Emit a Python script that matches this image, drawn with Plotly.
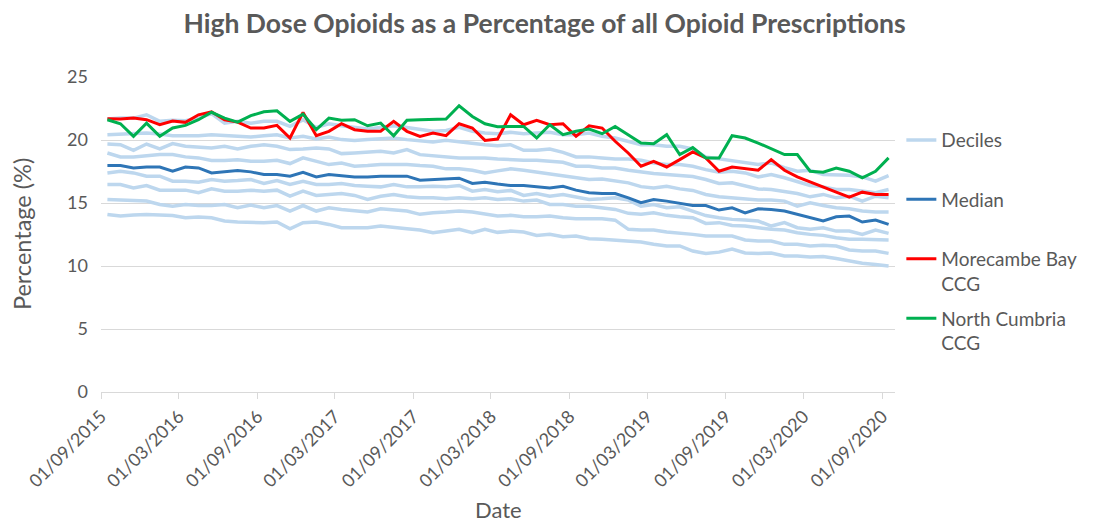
import pandas as pd
import plotly.graph_objects as go

# Monthly prescribing data, Sep 2015 – Sep 2020
months = pd.date_range("2015-09-01", periods=61, freq="MS")

p10 = [14.09, 13.96, 14.04, 14.09, 14.04, 14.01, 13.83, 13.88, 13.83, 13.57, 13.49, 13.43, 13.43, 13.49, 12.95,
       13.43, 13.49, 13.30, 13.04, 13.04, 13.04, 13.17, 13.04, 12.96, 12.85, 12.64, 12.77, 12.91, 12.64, 12.91,
       12.67, 12.77, 12.70, 12.43, 12.51, 12.33, 12.38, 12.17, 12.12, 12.06, 12.00, 11.90, 11.72, 11.59, 11.59,
       11.19, 11.00, 11.10, 11.35, 11.03, 11.00, 11.03, 10.80, 10.80, 10.72, 10.75, 10.59, 10.40, 10.22, 10.11, 10.00]
p20 = [15.28, 15.23, 15.15, 15.15, 14.88, 14.75, 14.88, 14.80, 14.80, 14.88, 14.62, 14.83, 14.62, 14.80, 14.36,
       14.80, 14.36, 14.62, 14.49, 14.36, 14.28, 14.54, 14.44, 14.36, 14.10, 14.23, 14.28, 14.36, 14.28, 14.10,
       13.96, 14.02, 13.91, 13.91, 13.96, 13.83, 13.75, 13.75, 13.75, 13.64, 12.91, 12.85, 12.85, 12.70, 12.64,
       12.51, 12.38, 12.38, 12.38, 12.06, 11.98, 11.98, 11.72, 11.72, 11.59, 11.64, 11.59, 11.27, 11.19, 11.19, 11.00]
p30 = [16.47, 16.47, 16.20, 16.39, 16.02, 16.02, 16.02, 15.81, 16.12, 15.94, 15.94, 16.02, 15.94, 16.02, 15.54,
       15.94, 15.60, 15.68, 15.75, 15.60, 15.28, 15.54, 15.68, 15.49, 15.41, 15.41, 15.33, 15.41, 15.33, 15.41,
       15.28, 15.33, 15.15, 15.23, 14.88, 14.88, 14.75, 14.75, 14.62, 14.49, 14.18, 14.10, 14.23, 14.02, 13.91,
       13.83, 13.38, 13.44, 13.22, 13.17, 13.04, 12.91, 12.85, 12.64, 12.51, 12.43, 12.25, 12.12, 12.12, 12.12, 12.06]
p40 = [17.39, 17.52, 17.39, 17.13, 17.13, 16.73, 16.73, 16.65, 16.86, 16.73, 16.78, 16.86, 16.55, 16.78, 16.47,
       16.73, 16.47, 16.47, 16.55, 16.39, 16.33, 16.28, 16.47, 16.28, 16.28, 16.33, 16.28, 16.39, 15.94, 16.07,
       15.90, 16.00, 15.60, 15.75, 15.54, 15.68, 15.47, 15.28, 15.33, 15.41, 15.23, 14.75, 14.88, 14.62, 14.70,
       14.33, 14.00, 13.83, 13.70, 13.65, 13.57, 13.17, 13.44, 13.04, 12.91, 13.04, 12.77, 12.77, 12.51, 12.85, 12.59]
p60 = [18.97, 18.66, 18.66, 18.76, 18.84, 18.84, 18.66, 18.58, 18.37, 18.37, 18.44, 18.31, 18.31, 18.39, 18.13,
       18.58, 18.31, 18.05, 18.18, 17.92, 17.97, 18.05, 18.05, 18.05, 17.97, 17.92, 17.71, 17.71, 17.60, 17.39,
       17.55, 17.71, 17.60, 17.44, 17.34, 17.18, 17.00, 16.86, 16.90, 16.73, 16.60, 16.30, 16.20, 16.33, 16.12,
       16.00, 15.68, 15.49, 15.41, 15.34, 15.23, 15.23, 15.15, 14.75, 15.02, 14.80, 14.62, 14.54, 14.36, 14.28, 14.28]
p70 = [19.68, 19.63, 19.18, 19.68, 19.29, 19.71, 19.50, 19.42, 19.37, 19.50, 19.29, 19.50, 19.63, 19.50, 19.24,
       19.29, 19.37, 19.29, 18.92, 18.97, 19.02, 19.10, 18.97, 19.24, 18.84, 18.76, 18.71, 18.58, 18.58, 18.58,
       18.50, 18.44, 18.39, 18.39, 18.31, 18.23, 17.92, 17.92, 17.78, 17.78, 17.60, 17.45, 17.34, 17.26, 17.20,
       17.10, 16.86, 16.55, 16.60, 16.39, 16.12, 16.07, 15.94, 15.75, 15.49, 15.68, 15.41, 15.54, 15.15, 15.54, 15.41]
p80 = [20.42, 20.47, 20.55, 20.55, 20.47, 20.34, 20.34, 20.34, 20.42, 20.34, 20.29, 20.24, 20.34, 20.42, 20.16,
       20.29, 20.08, 20.24, 20.03, 19.97, 20.03, 20.08, 20.16, 20.03, 19.90, 19.84, 19.97, 19.84, 19.76, 19.63,
       19.55, 19.63, 19.18, 19.18, 19.29, 19.02, 18.66, 18.66, 18.58, 18.50, 18.50, 18.39, 18.18, 18.05, 18.05,
       17.92, 17.65, 17.44, 17.52, 17.39, 17.07, 17.26, 17.00, 16.73, 16.39, 16.28, 16.07, 16.07, 15.94, 15.81, 16.07]
p90 = [21.66, 21.74, 21.74, 22.00, 21.48, 21.56, 21.53, 21.74, 22.10, 21.34, 21.48, 21.34, 21.48, 21.48, 21.08,
       21.60, 21.00, 21.29, 21.13, 21.00, 20.87, 21.00, 21.13, 21.00, 20.82, 20.69, 20.76, 21.00, 20.69, 20.55,
       20.50, 20.61, 20.50, 20.55, 20.61, 20.42, 20.42, 20.55, 20.29, 20.16, 19.90, 19.63, 19.63, 19.50, 19.50,
       19.29, 18.66, 18.50, 18.31, 18.20, 18.05, 18.18, 17.80, 17.52, 17.60, 17.26, 17.20, 17.20, 17.07, 16.73, 17.18]
median = [17.97, 17.97, 17.78, 17.86, 17.86, 17.52, 17.86, 17.78, 17.39, 17.47, 17.57, 17.47, 17.26, 17.26, 17.13,
          17.44, 17.07, 17.26, 17.18, 17.07, 17.07, 17.13, 17.13, 17.13, 16.81, 16.86, 16.86, 16.97, 16.55, 16.65,
          16.50, 16.39, 16.39, 16.28, 16.20, 16.33, 16.02, 15.81, 15.75, 15.75, 15.41, 15.02, 15.28, 15.15, 14.96,
          14.80, 14.80, 14.44, 14.62, 14.22, 14.54, 14.49, 14.36, 14.10, 13.83, 13.57, 13.91, 13.96, 13.49, 13.65, 13.30]
morecambe_bay = [21.69, 21.66, 21.74, 21.61, 21.21, 21.50, 21.40, 22.00, 22.24, 21.61, 21.42, 20.95, 20.95, 21.16, 20.16,
                 22.19, 20.34, 20.69, 21.29, 20.82, 20.69, 20.69, 21.48, 20.69, 20.29, 20.55, 20.34, 21.29, 20.95, 19.97,
                 20.08, 22.00, 21.21, 21.56, 21.21, 21.29, 20.29, 21.13, 20.95, 19.90, 18.95, 17.92, 18.31, 17.86, 18.44,
                 19.05, 18.58, 17.52, 17.86, 17.71, 17.60, 18.44, 17.60, 17.07, 16.65, 16.28, 15.86, 15.46, 15.86, 15.68, 15.68]
north_cumbria = [21.61, 21.29, 20.29, 21.34, 20.29, 20.95, 21.16, 21.61, 22.20, 21.74, 21.42, 21.93, 22.24, 22.32, 21.48,
                 22.05, 20.82, 21.74, 21.56, 21.61, 21.13, 21.34, 20.34, 21.56, 21.61, 21.66, 21.66, 22.72, 21.87, 21.29,
                 21.05, 21.08, 21.08, 20.16, 21.21, 20.42, 20.69, 20.87, 20.50, 21.08, 20.42, 19.76, 19.71, 20.42, 18.84,
                 19.40, 18.58, 18.58, 20.34, 20.16, 19.76, 19.29, 18.84, 18.84, 17.52, 17.44, 17.78, 17.52, 16.99, 17.52, 18.58]

deciles = [p10, p20, p30, p40, p60, p70, p80, p90]

y_ticks = [0, 5, 10, 15, 20, 25]

TEXT = "#595959"
FONT = "Lato"

fig = go.Figure()

common = dict(x=months, xperiod="M1", xperiodalignment="middle", mode="lines")

for k, series in enumerate(deciles):
    fig.add_trace(go.Scatter(
        y=series, name="Deciles<br> ", legendgroup="deciles", showlegend=(k == 0),
        line=dict(color="#BDD7EE", width=3.5), **common))

fig.add_trace(go.Scatter(y=median, name="Median<br> ", legendgroup="median",
                         line=dict(color="#2E75B6", width=3), **common))
fig.add_trace(go.Scatter(y=morecambe_bay, name="Morecambe Bay<br>CCG", legendgroup="mb",
                         line=dict(color="#FF0000", width=3), **common))
fig.add_trace(go.Scatter(y=north_cumbria, name="North Cumbria<br>CCG", legendgroup="nc",
                         line=dict(color="#00B050", width=3), **common))

fig.update_layout(
    width=1097, height=523,
    margin=dict(l=101, r=202, t=77, b=131),
    paper_bgcolor="white", plot_bgcolor="white",
    font=dict(family=FONT, color=TEXT, size=18),
    title=dict(text="<b>High Dose Opioids as a Percentage of all Opioid Prescriptions</b>",
               x=0.4964, xref="container", xanchor="center",
               y=0.955, yref="container", yanchor="middle",
               font=dict(family=FONT, size=26.5, color=TEXT)),
    showlegend=True,
    legend=dict(x=1.008, xanchor="left", y=0.86, yanchor="top",
                font=dict(family=FONT, size=19, color=TEXT),
                valign="top", tracegroupgap=7, bgcolor="rgba(0,0,0,0)"),
    xaxis=dict(
        type="date",
        range=["2015-09-01", "2020-10-01"],
        tick0="2015-09-01", dtick="M6", tickformat="%d/%m/%Y",
        tickangle=-45, tickfont=dict(family=FONT, size=18, color=TEXT),
        showgrid=False, showline=True, linecolor="#D9D9D9", linewidth=1,
        ticks="outside", ticklen=6, tickcolor="#D9D9D9",
        zeroline=False, fixedrange=True,
    ),
    yaxis=dict(
        range=[0, 25], tickvals=y_ticks,
        tickfont=dict(family=FONT, size=18, color=TEXT),
        showgrid=True, gridcolor="#D9D9D9", gridwidth=1,
        zeroline=False, showline=False, ticks="", ticklabelstandoff=12,
    ),
    annotations=[
        dict(text="Percentage (%)", textangle=-90, xref="paper", yref="paper",
             x=-0.1, y=0.5, xanchor="center", yanchor="middle", showarrow=False,
             font=dict(family=FONT, size=23.5, color=TEXT)),
        dict(text="Date", xref="paper", yref="paper",
             x=0.5, y=-0.374, xanchor="center", yanchor="middle", showarrow=False,
             font=dict(family=FONT, size=22, color=TEXT)),
    ],
)

fig.write_html("out.html")
